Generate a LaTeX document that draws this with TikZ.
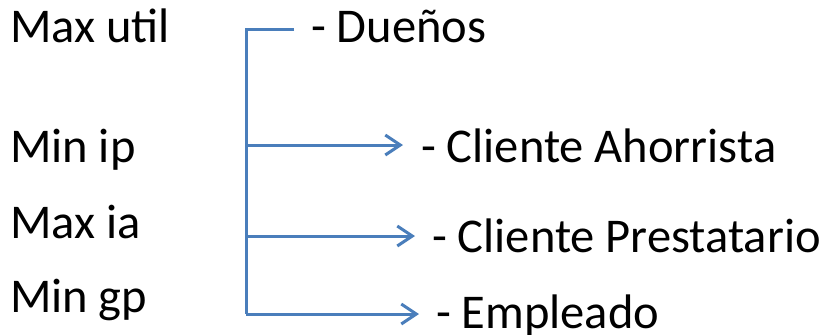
\documentclass[tikz,border=0pt]{standalone}
\usepackage{fontspec}
\setmainfont{Carlito}
\usetikzlibrary{arrows.meta}
\definecolor{lineblue}{HTML}{4A7EBB}
\tikzset{
  lbl/.style={anchor=base west, inner sep=0pt, outer sep=0pt, font=\fontsize{48.5}{58}\selectfont, text=black},
  conn/.style={draw=lineblue, line width=3pt},
  arr/.style={conn, -{Straight Barb[length=15pt, width=20pt, line width=3pt]}}
}
\begin{document}
\begin{tikzpicture}[x=1pt, y=-1pt]
\useasboundingbox (0,0) rectangle (823,335);
% left labels
\node[lbl] (maxutil) at (10,42) {Max util};
\node[lbl] (minip) at (10,162) {Min ip};
\node[lbl] (maxia) at (10,238) {Max ia};
\node[lbl] (mingp) at (10,312) {Min gp};
% right labels
\node[lbl] (duenos) at (311,42) {- Dueños};
\node[lbl] (ahorr) at (421,162) {- Cliente Ahorrista};
\node[lbl] (prest) at (432,252) {- Cliente Prestatario};
\node[lbl] (empl) at (436,328) {- Empleado};
% bracket coordinates
\coordinate (ctop) at (246,29);
\coordinate (cend) at (294,29);
\coordinate (b1) at (246,145);
\coordinate (b2) at (246,236);
\coordinate (b3) at (246,314);
\coordinate (t1) at (403,145);
\coordinate (t2) at (415,236);
\coordinate (t3) at (419,314);
\draw[conn, line join=miter] (cend) -- (ctop) -- (b3);
\draw[arr] (b1) -- (t1);
\draw[arr] (b2) -- (t2);
\draw[arr] (b3) -- (t3);
\end{tikzpicture}
\end{document}
